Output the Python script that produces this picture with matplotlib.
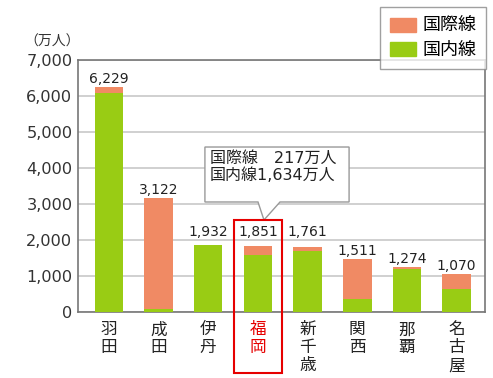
import matplotlib.pyplot as plt
from matplotlib.patches import Polygon, Rectangle, Patch
import numpy as np

plt.rcParams['font.family'] = ['DejaVu Sans', 'Noto Sans CJK JP']
plt.rcParams['axes.unicode_minus'] = False

# ===== データ=====
airports = ['羽田', '成田', '伊丹', '福岡', '新千歳', '関西', '那覇', '名古屋']
totals = [6229, 3122, 1932, 1851, 1761, 1511, 1274, 1070]          # 表示ラベル
domestic = [6070, 80, 1860, 1583, 1685, 352, 1203, 630]            # 国内線（棒）
international = [170, 3090, 0, 250, 111, 1129, 47, 425]          # 国際線（棒）
y_ticks = [0, 1000, 2000, 3000, 4000, 5000, 6000, 7000]
callout_text = '国際線　217万人\n国内線1,634万人'
highlight = '福岡'

green = '#99cc14'
orange = '#f08a64'

fig = plt.figure(figsize=(4.93, 3.78), dpi=100)
ax = fig.add_axes([78 / 493, 1 - 312 / 378, 407 / 493, 252 / 378])

x = np.arange(len(airports))
ax.bar(x, domestic, width=0.575, color=green, zorder=3)
ax.bar(x, international, width=0.575, bottom=domestic, color=orange, zorder=3)

ax.set_xlim(-0.62, 7.57)
ax.set_ylim(0, 7000)
ax.set_yticks(y_ticks)
ax.set_yticklabels([f'{v:,}' for v in y_ticks], fontsize=11.6, color='#333333')
ax.tick_params(axis='y', length=0, pad=4)
ax.grid(axis='y', color='#c8c8c8', linewidth=1.2, zorder=0)

ax.set_xticks(x)
ax.set_xticklabels(['\n'.join(n) for n in airports], fontsize=12,
                   linespacing=1.0, va='top', color='#222222')
ax.tick_params(axis='x', length=0, pad=6)
hi = airports.index(highlight)
ax.get_xticklabels()[hi].set_color('#e60000')

for s in ax.spines.values():
    s.set_color('#777777')
    s.set_linewidth(1.2)

# 数値ラベル（伊丹・福岡・新千歳は高さをそろえる）
for i, t in enumerate(totals):
    top = domestic[i] + international[i]
    y = 2110 if i in (2, 3, 4) else top + 110
    ax.text(i, y, f'{t:,}', ha='center', va='baseline', fontsize=10,
            color='#222222', zorder=5)

# 単位
ax.text(-1.15, 7520, '（万人）', fontsize=10, color='#333333',
        ha='center', va='center', clip_on=False)

# 吹き出し
bx0, bx1, by0, by1 = 1.934, 4.835, 3056, 4583
shape = [(bx0, by1), (bx1, by1), (bx1, by0), (hi + 0.445, by0), (hi + 0.122, 2556),
         (hi + 0.002, by0), (bx0, by0)]
ax.add_patch(Polygon(shape, closed=True, fc='white', ec='#999999', lw=1.0, zorder=6))
ax.text(bx0 + 0.1, 4470, callout_text, fontsize=11.5, va='top', ha='left',
        linespacing=1.1, color='#222222', zorder=7)

# 福岡の赤枠
ax.add_patch(Rectangle((hi - 0.49, -1694), 0.975, 2556 + 1694, fill=False,
                       ec='#e60000', lw=1.5, zorder=8, clip_on=False))

# 凡例
handles = [Patch(color=orange, label='国際線'), Patch(color=green, label='国内線')]
fig.legend(handles=handles, loc='upper right', bbox_to_anchor=(486 / 493, 1 - 7 / 378),
           fontsize=13, frameon=True, fancybox=False, edgecolor='#888888',
           handlelength=1.45, handleheight=0.8, handletextpad=0.35,
           borderpad=0.55, labelspacing=0.35, borderaxespad=0)

fig.savefig('out.png', dpi=100)
